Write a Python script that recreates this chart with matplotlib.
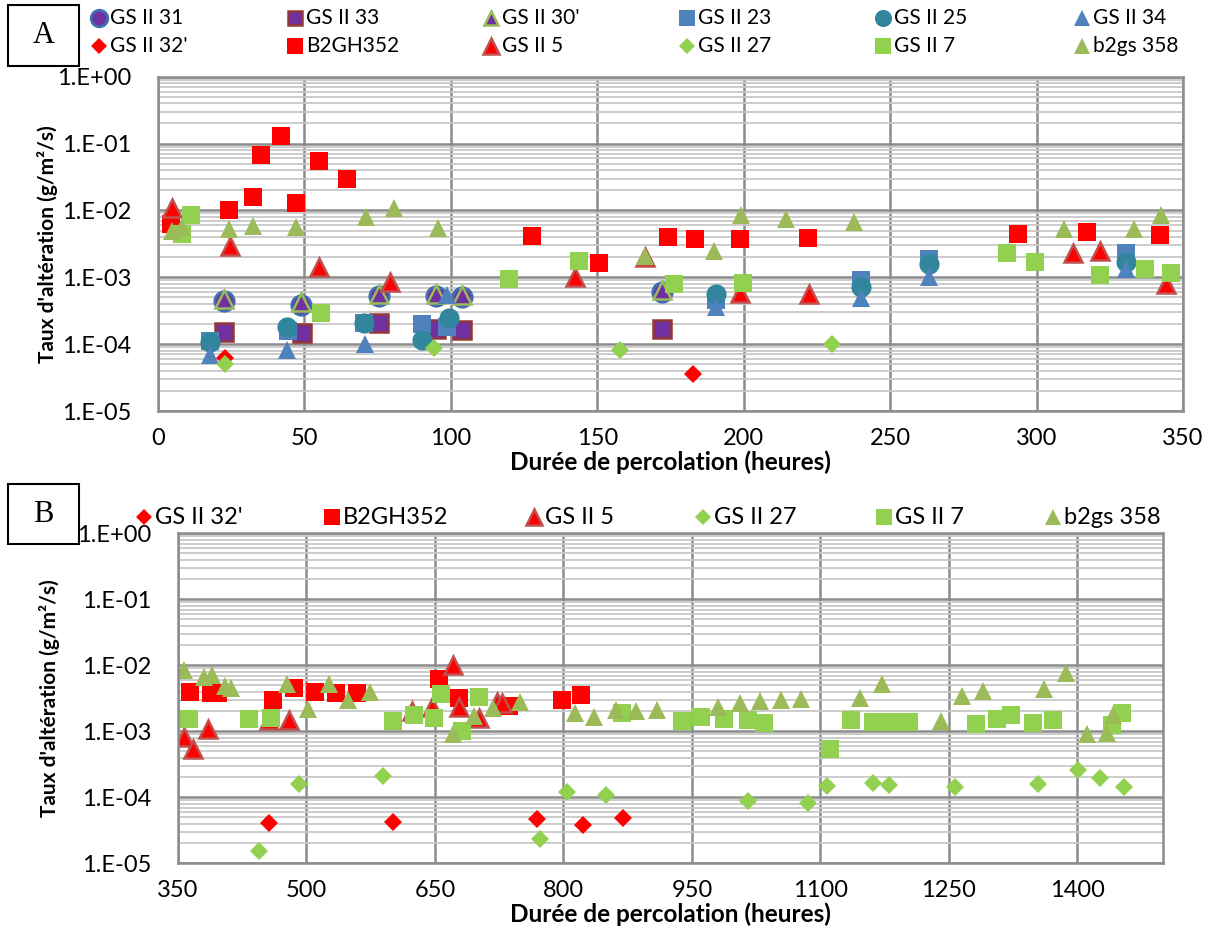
import numpy as np
import matplotlib
matplotlib.use("Agg")
import matplotlib.pyplot as plt
from matplotlib.lines import Line2D
from matplotlib.patches import Rectangle
from matplotlib.ticker import LogLocator, FuncFormatter, NullFormatter, FixedLocator

plt.rcParams['font.family'] = ['Lato', 'DejaVu Sans']

# ---------------- Panel A data (hours, rate g/m2/s) ----------------
a_gs31_h = [22.6, 48.9, 75.4, 94.9, 103.8, 172.1]
a_gs31_v = [4.4e-4, 3.8e-4, 5.2e-4, 5.2e-4, 5.0e-4, 6.0e-4]
a_gs33_h = [22.6, 49.1, 75.6, 95.0, 103.8, 172.1]
a_gs33_v = [1.5e-4, 1.48e-4, 2.1e-4, 1.66e-4, 1.6e-4, 1.66e-4]
a_gs30_h = [22.6, 48.9, 75.4, 94.9, 103.8, 172.1]
a_gs30_v = [4.7e-4, 4.3e-4, 5.6e-4, 5.6e-4, 5.4e-4, 6.4e-4]
a_gs23_h = [17.8, 44.3, 70.5, 90.3, 98.6, 190.4, 240.2, 263.4, 330.4]
a_gs23_v = [1.1e-4, 1.55e-4, 2.1e-4, 2.0e-4, 1.8e-4, 4.6e-4, 9.1e-4, 1.9e-3, 2.3e-3]
a_gs25_h = [17.8, 44.1, 70.5, 90.1, 99.2, 190.4, 240.1, 263.4, 330.4]
a_gs25_v = [1.07e-4, 1.78e-4, 2.1e-4, 1.15e-4, 2.5e-4, 5.6e-4, 7.2e-4, 1.58e-3, 1.7e-3]
a_gs34_h = [17.6, 44.1, 70.6, 98.6, 190.4, 240.1, 263.4, 330.4]
a_gs34_v = [6.9e-5, 8.2e-5, 1.0e-4, 5.4e-4, 3.6e-4, 4.9e-4, 1.02e-3, 1.35e-3]
a_gs32_h = [22.9, 182.6]
a_gs32_v = [6.2e-5, 3.6e-5]
a_b2gh_h = [4.5, 24.3, 32.3, 35.0, 41.9, 47.2, 54.9, 64.6, 127.7, 150.6, 174.2,
            183.2, 198.7, 222.0, 293.7, 317.2, 342.1]
a_b2gh_v = [6.2e-3, 1.0e-2, 1.6e-2, 6.8e-2, 0.128, 1.28e-2, 5.4e-2, 2.95e-2, 4.2e-3,
            1.66e-3, 4.05e-3, 3.8e-3, 3.8e-3, 3.9e-3, 4.4e-3, 4.8e-3, 4.3e-3]
a_gs5_h = [4.7, 24.7, 55.0, 79.3, 142.3, 166.4, 198.6, 222.4, 312.3, 321.7, 344.3]
a_gs5_v = [1.07e-2, 2.9e-3, 1.44e-3, 8.6e-4, 1.02e-3, 2.0e-3, 5.8e-4, 5.7e-4,
           2.28e-3, 2.46e-3, 7.9e-4]
a_gs27_h = [22.9, 94.1, 157.9, 230.2]
a_gs27_v = [5.0e-5, 8.9e-5, 8.1e-5, 1.02e-4]
a_gs7_h = [8.1, 11.4, 55.8, 120.0, 143.9, 176.3, 199.9, 290.0, 299.3, 321.8, 336.9, 346.0]
a_gs7_v = [4.5e-3, 8.5e-3, 2.9e-4, 9.3e-4, 1.73e-3, 7.9e-4, 8.1e-4, 2.3e-3,
           1.67e-3, 1.1e-3, 1.32e-3, 1.15e-3]
a_b2gs_h = [4.7, 8.1, 24.1, 32.3, 47.2, 71.0, 80.5, 95.6, 166.4, 189.9, 199.1,
            214.5, 237.8, 309.5, 333.1, 342.4]
a_b2gs_v = [5.0e-3, 5.7e-3, 5.3e-3, 5.9e-3, 5.7e-3, 8.1e-3, 1.07e-2, 5.5e-3,
            2.1e-3, 2.5e-3, 8.5e-3, 7.4e-3, 6.8e-3, 5.3e-3, 5.2e-3, 8.5e-3]

# ---------------- Panel B data ----------------
b_gs32_h = [456, 601, 769, 823, 869]
b_gs32_v = [4.1e-5, 4.2e-5, 4.7e-5, 3.8e-5, 4.8e-5]
b_b2gh_h = [364, 389, 397, 461, 486, 510, 534, 559, 655, 678, 736, 798, 820]
b_b2gh_v = [3.9e-3, 3.8e-3, 3.8e-3, 3.0e-3, 4.6e-3, 4.0e-3, 3.8e-3, 3.8e-3,
            6.1e-3, 3.2e-3, 2.45e-3, 3.0e-3, 3.6e-3]
b_gs5_h = [357, 368, 385, 456, 480, 623, 646, 671, 678, 702, 722, 728]
b_gs5_v = [8.1e-4, 5.3e-4, 1.1e-3, 1.5e-3, 1.48e-3, 2.0e-3, 2.3e-3, 1.02e-2,
           2.35e-3, 1.6e-3, 2.8e-3, 2.7e-3]
b_gs27_h = [444, 491, 589, 773, 804, 850, 1015, 1085, 1108, 1161, 1180, 1257,
            1354, 1401, 1427, 1454]
b_gs27_v = [1.55e-5, 1.6e-4, 2.1e-4, 2.3e-5, 1.2e-4, 1.07e-4, 8.9e-5, 8.3e-5,
            1.5e-4, 1.63e-4, 1.55e-4, 1.41e-4, 1.58e-4, 2.6e-4, 1.95e-4, 1.41e-4]
b_gs7_h = [363, 433, 458, 601, 625, 649, 657, 681, 701, 868, 939, 961, 987, 1015,
           1034, 1111, 1136, 1162, 1183, 1204, 1282, 1306, 1323, 1348, 1372, 1441, 1452]
b_gs7_v = [1.55e-3, 1.55e-3, 1.58e-3, 1.42e-3, 1.78e-3, 1.6e-3, 3.7e-3, 1.0e-3,
           3.3e-3, 1.9e-3, 1.42e-3, 1.65e-3, 1.55e-3, 1.5e-3, 1.32e-3, 5.3e-4,
           1.5e-3, 1.4e-3, 1.4e-3, 1.4e-3, 1.28e-3, 1.52e-3, 1.74e-3, 1.32e-3,
           1.5e-3, 1.23e-3, 1.87e-3]
b_b2gs_h = [357, 380, 390, 405, 412, 477, 502, 526, 549, 574, 671, 695, 718, 749,
            813, 836, 861, 885, 909, 981, 1006, 1029, 1054, 1077, 1146, 1172, 1241,
            1265, 1290, 1361, 1387, 1411, 1435, 1442]
b_b2gs_v = [8.5e-3, 6.7e-3, 7.1e-3, 4.8e-3, 4.6e-3, 5.2e-3, 2.2e-3, 5.2e-3, 3.0e-3,
            4.0e-3, 9e-4, 1.7e-3, 2.25e-3, 2.8e-3, 1.9e-3, 1.65e-3, 2.1e-3, 2.0e-3,
            2.1e-3, 2.3e-3, 2.7e-3, 2.9e-3, 3.0e-3, 3.05e-3, 3.15e-3, 5.2e-3, 1.45e-3,
            3.4e-3, 4.1e-3, 4.3e-3, 7.6e-3, 9.0e-4, 9.5e-4, 1.77e-3]

series_names = ["GS II 31", "GS II 33", "GS II 30'", "GS II 23", "GS II 25", "GS II 34",
                "GS II 32'", "B2GH352", "GS II 5", "GS II 27", "GS II 7", "b2gs 358"]

# ---------------- Styles ----------------
PURPLE = '#7030A0'
BLUE = '#4F81BD'
TEAL = '#31859C'
RED = '#FF0000'
LGREEN = '#92D050'
OLIVE = '#9BBB59'
styles = {
    "GS II 31": dict(marker='o', ms=14.0, mfc=PURPLE, mec='#3F6FB0', mew=2.0),
    "GS II 33": dict(marker='s', ms=12.5, mfc=PURPLE, mec='#953735', mew=1.8),
    "GS II 30'": dict(marker='^', ms=12.5, mfc=PURPLE, mec=OLIVE, mew=1.8),
    "GS II 23": dict(marker='s', ms=13.5, mfc=BLUE, mec=BLUE, mew=0),
    "GS II 25": dict(marker='o', ms=14.5, mfc=TEAL, mec=TEAL, mew=0),
    "GS II 34": dict(marker='^', ms=13.0, mfc=BLUE, mec=BLUE, mew=0),
    "GS II 32'": dict(marker='D', ms=9.0, mfc=RED, mec=RED, mew=0),
    "B2GH352": dict(marker='s', ms=13.5, mfc=RED, mec=RED, mew=0),
    "GS II 5": dict(marker='^', ms=13.0, mfc=RED, mec='#C0504D', mew=1.8),
    "GS II 27": dict(marker='D', ms=9.0, mfc=LGREEN, mec=LGREEN, mew=0),
    "GS II 7": dict(marker='s', ms=13.5, mfc=LGREEN, mec=LGREEN, mew=0),
    "b2gs 358": dict(marker='^', ms=13.0, mfc=OLIVE, mec=OLIVE, mew=0),
}

data_A = {
    "GS II 31": (a_gs31_h, a_gs31_v), "GS II 33": (a_gs33_h, a_gs33_v),
    "GS II 30'": (a_gs30_h, a_gs30_v), "GS II 23": (a_gs23_h, a_gs23_v),
    "GS II 25": (a_gs25_h, a_gs25_v), "GS II 34": (a_gs34_h, a_gs34_v),
    "GS II 32'": (a_gs32_h, a_gs32_v), "B2GH352": (a_b2gh_h, a_b2gh_v),
    "GS II 5": (a_gs5_h, a_gs5_v), "GS II 27": (a_gs27_h, a_gs27_v),
    "GS II 7": (a_gs7_h, a_gs7_v), "b2gs 358": (a_b2gs_h, a_b2gs_v),
}
data_B = {
    "GS II 32'": (b_gs32_h, b_gs32_v), "B2GH352": (b_b2gh_h, b_b2gh_v),
    "GS II 5": (b_gs5_h, b_gs5_v), "GS II 27": (b_gs27_h, b_gs27_v),
    "GS II 7": (b_gs7_h, b_gs7_v), "b2gs 358": (b_b2gs_h, b_b2gs_v),
}

W, H = 1211, 930
fig = plt.figure(figsize=(W / 100, H / 100), dpi=100)

GRID_MAJ = '#8C8C8C'
GRID_MIN = '#C8C8C8'
TICK_FS = 17
YLAB_FS = 15
XLAB_FS = 17.5


def fmt(v, pos):
    e = int(round(np.log10(v)))
    return f"1.E{e:+03d}"


def style_axes(ax, xmin, xmax, xstep, xfirst, ylab_x, xlab_y):
    ax.set_yscale('log')
    ax.set_ylim(1e-5, 1.0)
    ax.set_xlim(xmin, xmax)
    ax.xaxis.set_major_locator(FixedLocator(np.arange(xfirst, xmax + 1e-9, xstep)))
    ax.yaxis.set_major_locator(LogLocator(base=10, numticks=10))
    ax.yaxis.set_minor_locator(LogLocator(base=10, subs=np.arange(2, 10), numticks=20))
    ax.yaxis.set_major_formatter(FuncFormatter(fmt))
    ax.yaxis.set_minor_formatter(NullFormatter())
    ax.set_axisbelow(True)
    ax.grid(True, which='minor', axis='y', color=GRID_MIN, lw=1.3)
    ax.grid(True, which='major', axis='y', color=GRID_MAJ, lw=1.8)
    ax.grid(True, which='major', axis='x', color=GRID_MAJ, lw=1.8)
    for s in ax.spines.values():
        s.set_color(GRID_MAJ)
        s.set_linewidth(1.8)
    ax.tick_params(which='both', length=0)
    ax.tick_params(axis='y', pad=19, labelsize=TICK_FS)
    ax.tick_params(axis='x', pad=12, labelsize=TICK_FS)
    ax.set_ylabel("Taux d'altération (g/m²/s)", fontsize=YLAB_FS, fontweight='bold', va='center')
    ax.yaxis.set_label_coords(ylab_x, 0.5)
    ax.set_xlabel("Durée de percolation (heures)", fontsize=XLAB_FS, fontweight='bold', va='center')
    ax.xaxis.set_label_coords(0.5, xlab_y)


# ---------- Panel A ----------
axA = fig.add_axes([158 / W, 1 - 411 / H, 1025 / W, 334.3 / H])
for name in series_names:
    h, v = data_A[name]
    axA.plot(h, v, ls='none', **styles[name])
style_axes(axA, 0, 350, 50, 0, (48 - 158) / 1025, (411 - 462) / 334.3)

# ---------- Panel B ----------
axB = fig.add_axes([178 / W, 1 - 863.3 / H, 985 / W, 330 / H])
for name in series_names[6:]:
    h, v = data_B[name]
    axB.plot(h, v, ls='none', **styles[name])
style_axes(axB, 350, 1500, 150, 350, (50 - 178) / 985, (863.3 - 914) / 330)

# ---------- Legends (row-major, like the original) ----------
def legend_entry(name, xpx, ypx, fs, ms_scale):
    st = dict(styles[name])
    st['ms'] = st['ms'] * ms_scale
    fig.add_artist(Line2D([xpx / W], [1 - ypx / H], transform=fig.transFigure,
                          ls='none', **st))
    fig.text((xpx + 11) / W, 1 - ypx / H, name, fontsize=fs, ha='left', va='center')

colsA = [99, 295, 491, 687, 883, 1082]
rowsA = [18, 46]
for i, name in enumerate(series_names):
    legend_entry(name, colsA[i % 6], rowsA[i // 6], 15, 0.85)

colsB = [144, 332, 534, 703, 884, 1053]
for i, name in enumerate(series_names[6:]):
    legend_entry(name, colsB[i], 517, 17, 0.9)

# ---------- Panel letters ----------
for (x0, y0, x1, y1, letter) in [(8, 5, 79, 66, 'A'), (8, 484, 79, 544, 'B')]:
    fig.add_artist(Rectangle((x0 / W, 1 - y1 / H), (x1 - x0) / W, (y1 - y0) / H,
                             transform=fig.transFigure, fill=False, ec='black', lw=1.5))
    fig.text((x0 + x1) / 2 / W, 1 - (y0 + y1) / 2 / H, letter, fontsize=22,
             family='Liberation Serif', ha='center', va='center')

fig.savefig('out.png', dpi=100)
